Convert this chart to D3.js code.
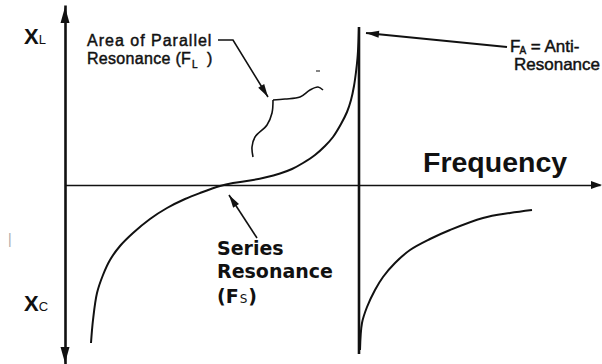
<!DOCTYPE html>
<html lang="en">
<head>
  <title>Crystal Reactance vs Frequency</title>
  <script src="https://cdn.jsdelivr.net/npm/d3@7"></script>
  <style>
    body { margin: 0; background: #fff; }
    text { font-family: "Liberation Sans", Arial, sans-serif; fill: #111; }
    .note { stroke: #111; stroke-width: 0.45; }
  </style>
</head>
<body>
  <script>
    let width = 602, height = 364;
    // readings in arbitrary units: frequency from the y-axis, reactance from the x-axis
    let seriesF = [26, 28, 32, 38, 45, 55, 68, 85, 102, 120, 135, 155, 168, 185, 200, 215, 227, 238, 250, 260, 268, 276, 282, 286, 289, 291, 292.5, 293.5, 294];
    let seriesX = [-158, -135, -108, -90, -75, -61, -48, -34, -23, -14, -8, -1, 2, 4.5, 7.5, 11.5, 16, 22, 30, 39, 48, 61, 73, 85, 99, 113, 127, 143, 157];
    let antiF = [295, 297, 302, 310, 318, 330, 345, 365, 385, 418, 445, 467];
    let antiX = [-165, -138, -122, -105, -92, -78, -65, -54, -45, -33, -28, -25];
    let poleF = [294, 294];
    let poleX = [158, -169];
    // squiggle marking the area of parallel resonance
    let squigRightF = [208, 220, 235, 245, 253, 258];
    let squigRightX = [85, 86, 88, 95, 98, 95];
    let squigDownF = [208, 207, 202, 190, 187, 188];
    let squigDownX = [85, 72, 60, 48, 38, 28];
    // pointer lines (last point is the arrow tip)
    let parallelPtr = [[153, 145], [168, 145], [203, 88]];
    let antiPtr = [[442, 138], [301, 152]];
    let seriesPtr = [[192, -53], [164, -10]];

    let svg = d3.select("body").append("svg")
      .attr("width", width)
      .attr("height", height);

    let x = d3.scaleLinear().domain([0, 535]).range([65, 600]);
    let y = d3.scaleLinear().domain([-180, 180]).range([365, 5]);

    // axes without ticks
    let xAxisG = svg.append("g")
      .attr("transform", `translate(0, ${y(0)})`)
      .call(d3.axisBottom(x).tickValues([]).tickSizeOuter(0));
    xAxisG.select(".domain").attr("stroke", "#111").attr("stroke-width", 1.6);

    let yAxisG = svg.append("g")
      .attr("transform", `translate(${x(0)}, 0)`)
      .call(d3.axisLeft(y).tickValues([]).tickSizeOuter(0));
    yAxisG.select(".domain").attr("stroke", "#111").attr("stroke-width", 2.6);

    function head(tip, from, len, half) {
      let a = Math.atan2(tip[1] - from[1], tip[0] - from[0]);
      let bx = tip[0] - len * Math.cos(a), by = tip[1] - len * Math.sin(a);
      let px = -Math.sin(a) * half, py = Math.cos(a) * half;
      return `M${tip[0]},${tip[1]}L${bx + px},${by + py}L${bx - px},${by - py}Z`;
    }
    // axis arrow heads
    svg.append("path").attr("d", head([x(0), y(180) + 2], [x(0), y(0)], 16, 4.5)).attr("fill", "#111");
    svg.append("path").attr("d", head([x(0), y(-180) - 2], [x(0), y(0)], 16, 4.5)).attr("fill", "#111");
    svg.append("path").attr("d", head([x(537), y(0)], [x(0), y(0)], 11, 4)).attr("fill", "#111");

    let line = d3.line()
      .x(d => x(d[0]))
      .y(d => y(d[1]))
      .curve(d3.curveCatmullRom.alpha(0.5));

    let curves = [
      { f: seriesF, v: seriesX, w: 2 },
      { f: antiF, v: antiX, w: 2 },
      { f: squigRightF, v: squigRightX, w: 1.6 },
      { f: squigDownF, v: squigDownX, w: 1.6 }
    ];
    svg.selectAll(".curve").data(curves).join("path")
      .attr("class", "curve")
      .attr("d", c => line(c.f.map((f, i) => [f, c.v[i]])))
      .attr("fill", "none")
      .attr("stroke", "#111")
      .attr("stroke-width", c => c.w);

    // anti-resonance line
    let straight = d3.line().x(d => x(d[0])).y(d => y(d[1]));
    svg.append("path")
      .attr("d", straight(poleF.map((f, i) => [f, poleX[i]])))
      .attr("stroke", "#111")
      .attr("stroke-width", 2.6);

    // small dash near the squiggle
    svg.append("path")
      .attr("d", straight([[251, 114], [255, 114]]))
      .attr("stroke", "#333")
      .attr("stroke-width", 1.2);

    // pointers
    [parallelPtr, antiPtr, seriesPtr].forEach((p, k) => {
      let pts = p.map(d => [x(d[0]), y(d[1])]);
      svg.append("path").attr("d", straight(p))
        .attr("fill", "none").attr("stroke", "#111")
        .attr("stroke-width", k == 1 ? 2 : 1.6);
      svg.append("path")
        .attr("d", head(pts[pts.length - 1], pts[pts.length - 2], 13, 3.5))
        .attr("fill", "#111");
    });

    // X_L and X_C labels
    let xl = svg.append("text").attr("x", 24).attr("y", 44);
    xl.append("tspan").text("X").attr("font-weight", "bold").attr("font-size", 22);
    xl.append("tspan").text("L").attr("font-size", 13);
    let xc = svg.append("text").attr("x", 24).attr("y", 311);
    xc.append("tspan").text("X").attr("font-weight", "bold").attr("font-size", 22);
    xc.append("tspan").text("C").attr("font-size", 13);

    // area of parallel resonance
    svg.append("text").attr("class", "note").attr("x", 87).attr("y", 46)
      .attr("font-size", 16).attr("letter-spacing", 1)
      .text("Area of Parallel");
    let fl = svg.append("text").attr("class", "note").attr("x", 87).attr("y", 64)
      .attr("font-size", 16).attr("letter-spacing", 0.3);
    fl.append("tspan").text("Resonance (F");
    fl.append("tspan").text("L").attr("font-size", 10).attr("dy", 4).attr("dx", 1);
    fl.append("tspan").text(")").attr("dy", -4).attr("dx", 9);

    // anti-resonance
    let fa = svg.append("text").attr("class", "note").attr("x", 510).attr("y", 52).attr("font-size", 17);
    fa.append("tspan").text("F");
    fa.append("tspan").text("A").attr("font-size", 10).attr("dy", 2).attr("dx", -1);
    fa.append("tspan").text(" = Anti-").attr("dy", -2);
    svg.append("text").attr("class", "note").attr("x", 514).attr("y", 70).attr("font-size", 17).text("Resonance");

    // frequency axis title
    svg.append("text").attr("x", 423).attr("y", 172)
      .attr("font-size", 28.5).attr("font-weight", "bold")
      .text("Frequency");

    // series resonance
    let sr = ["Series", "Resonance"];
    sr.forEach((s, i) => {
      svg.append("text").attr("x", 217).attr("y", 255 + i * 23)
        .style("font-family", "'DejaVu Sans', Verdana, sans-serif")
        .attr("font-size", 19).attr("font-weight", "bold")
        .text(s);
    });
    let fs = svg.append("text").attr("x", 217).attr("y", 303)
      .style("font-family", "'DejaVu Sans', Verdana, sans-serif")
      .attr("font-size", 19).attr("font-weight", "bold");
    fs.append("tspan").text("(F");
    fs.append("tspan").text("S").attr("font-size", 12).attr("font-weight", "normal").attr("dx", 1);
    fs.append("tspan").text(")").attr("dx", 1);

    // faint scanning mark on the left edge
    svg.append("text").attr("x", 8).attr("y", 244).attr("font-size", 14)
      .style("fill", "#aaa").text("|");
  </script>
</body>
</html>
